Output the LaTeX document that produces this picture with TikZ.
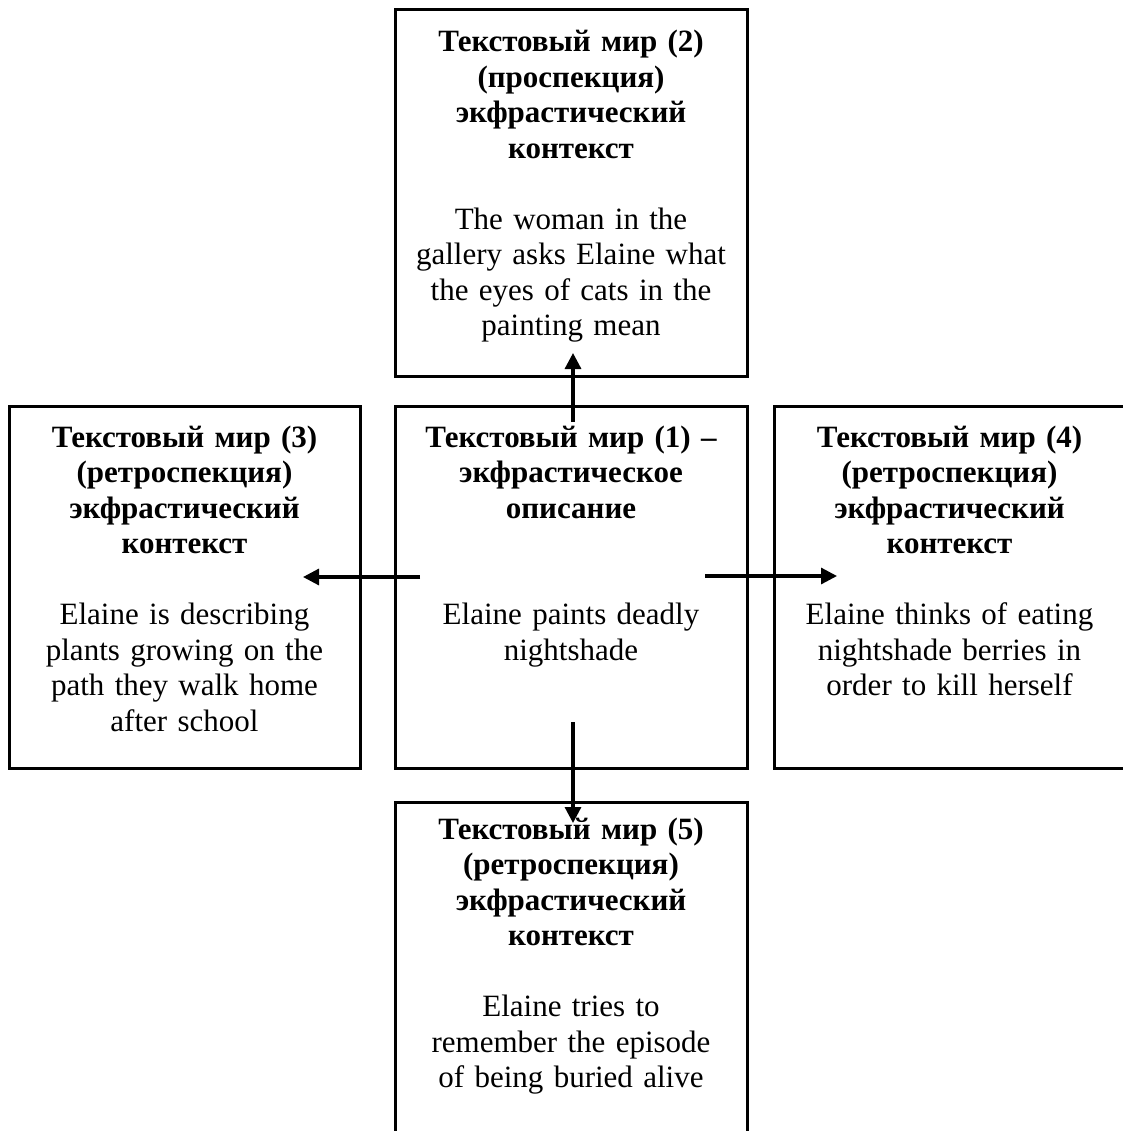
\documentclass[tikz,border=0pt]{standalone}
\usepackage{fontspec}
\setmainfont{Liberation Serif}
\usetikzlibrary{arrows.meta,calc}
\tikzset{
  box/.style={draw=black, line width=3pt, rectangle, inner sep=0pt, outer sep=0pt,
    minimum width=352pt, minimum height=362pt},
  txt/.style={anchor=base, align=center, text width=345pt, inner sep=0pt,
    font=\fontsize{31}{35.5}\selectfont},
  arr/.style={line width=3.2pt, -{Triangle[length=16pt,width=16pt]}}
}
\begin{document}
\begin{tikzpicture}[x=1pt,y=-1pt]
\useasboundingbox (0,0) rectangle (1122,1131);
\node[box] (b1) at (571,587) {};
\node[box, minimum height=366pt] (b2) at (571,193) {};
\node[box, minimum width=351pt] (b3) at (184.5,587) {};
\node[box, minimum width=351pt] (b4) at (949.5,587) {};
\node[box] (b5) at (571,983) {};

\node[txt] (t1) at ($(b1.north)+(0,41)$) {\textbf{Текстовый мир (1) –}\\\textbf{экфрастическое}\\\textbf{описание}\\[71pt]Elaine paints deadly\\nightshade};
\node[txt] (t2) at ($(b2.north)+(0,42)$) {\textbf{Текстовый мир (2)}\\\textbf{(проспекция)}\\\textbf{экфрастический}\\\textbf{контекст}\\[35.5pt]The woman in the\\gallery asks Elaine what\\the eyes of cats in the\\painting mean};
\node[txt] (t3) at ($(b3.north)+(0,41)$) {\textbf{Текстовый мир (3)}\\\textbf{(ретроспекция)}\\\textbf{экфрастический}\\\textbf{контекст}\\[35.5pt]Elaine is describing\\plants growing on the\\path they walk home\\after school};
\node[txt] (t4) at ($(b4.north)+(0,41)$) {\textbf{Текстовый мир (4)}\\\textbf{(ретроспекция)}\\\textbf{экфрастический}\\\textbf{контекст}\\[35.5pt]Elaine thinks of eating\\nightshade berries in\\order to kill herself};
\node[txt] (t5) at ($(b5.north)+(0,37)$) {\textbf{Текстовый мир (5)}\\\textbf{(ретроспекция)}\\\textbf{экфрастический}\\\textbf{контекст}\\[35.5pt]Elaine tries to\\remember the episode\\of being buried alive};

\coordinate (upS) at ($(b1.north)+(2,16)$);
\coordinate (upE) at ($(b2.south)+(2,-23)$);
\coordinate (leS) at ($(b1.west)+(25,-10)$);
\coordinate (leE) at ($(b3.east)+(-57,-10)$);
\coordinate (riS) at ($(b1.east)+(-42,-11)$);
\coordinate (riE) at ($(b4.west)+(63,-11)$);
\coordinate (dnS) at ($(b1.south)+(2,-46)$);
\coordinate (dnE) at ($(b5.north)+(2,21)$);

\draw[arr] (upS) -- (upE);
\draw[arr] (leS) -- (leE);
\draw[arr] (riS) -- (riE);
\draw[arr] (dnS) -- (dnE);
\end{tikzpicture}
\end{document}
